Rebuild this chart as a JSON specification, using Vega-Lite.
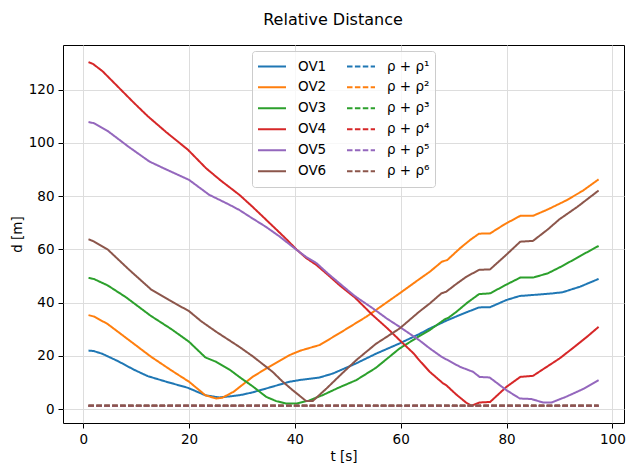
{
  "$schema": "https://vega.github.io/schema/vega-lite/v6.json",
  "autosize": "none",
  "width": 561,
  "height": 378,
  "padding": {"left": 63, "top": 45, "right": 2, "bottom": 43},
  "background": "white",
  "config": {
    "font": "DejaVu Sans",
    "view": {"stroke": "black", "strokeWidth": 1},
    "axis": {
      "domain": false,
      "grid": true,
      "gridColor": "#dddddd",
      "gridWidth": 1,
      "tickColor": "black",
      "tickSize": 5,
      "tickWidth": 1,
      "labelColor": "black",
      "labelFontSize": 13.5,
      "labelPadding": 4,
      "titleColor": "black",
      "titleFontSize": 13.5,
      "titleFontWeight": "normal",
      "titlePadding": 4
    }
  },
  "title": {
    "text": "Relative Distance",
    "fontSize": 16,
    "fontWeight": "normal",
    "color": "black",
    "anchor": "middle",
    "dx": -10.5,
    "baseline": "alphabetic",
    "offset": 4
  },
  "datasets": {
    "ov": [
      {"s":"OV1","t":1,"d":22},{"s":"OV1","t":2,"d":21.8},{"s":"OV1","t":3.6,"d":20.8},{"s":"OV1","t":6.6,"d":18},{"s":"OV1","t":9.6,"d":14.8},{"s":"OV1","t":12.2,"d":12.4},{"s":"OV1","t":15.7,"d":10.3},{"s":"OV1","t":19.8,"d":8},{"s":"OV1","t":23.1,"d":5.2},{"s":"OV1","t":25.7,"d":4.4},{"s":"OV1","t":28.2,"d":4.9},{"s":"OV1","t":30,"d":5.4},{"s":"OV1","t":32,"d":6.3},{"s":"OV1","t":35,"d":8},{"s":"OV1","t":39,"d":10.3},{"s":"OV1","t":41.1,"d":11},{"s":"OV1","t":44.7,"d":11.9},{"s":"OV1","t":47.2,"d":13.4},{"s":"OV1","t":51.6,"d":17.2},{"s":"OV1","t":55.3,"d":20.8},{"s":"OV1","t":59.8,"d":24.7},{"s":"OV1","t":63.5,"d":28.2},{"s":"OV1","t":65.5,"d":30.3},{"s":"OV1","t":68.6,"d":33.2},{"s":"OV1","t":70.5,"d":34.8},{"s":"OV1","t":72.6,"d":36.5},{"s":"OV1","t":74.8,"d":38.2},{"s":"OV1","t":76.9,"d":38.3},{"s":"OV1","t":80,"d":41},{"s":"OV1","t":82.5,"d":42.5},{"s":"OV1","t":85.8,"d":43},{"s":"OV1","t":88.8,"d":43.5},{"s":"OV1","t":90.6,"d":43.9},{"s":"OV1","t":93.9,"d":46},{"s":"OV1","t":97.4,"d":48.9},
      {"s":"OV2","t":1,"d":35.3},{"s":"OV2","t":2,"d":34.8},{"s":"OV2","t":4.6,"d":32},{"s":"OV2","t":7.6,"d":27.5},{"s":"OV2","t":12.8,"d":19.7},{"s":"OV2","t":16.7,"d":14.5},{"s":"OV2","t":20,"d":10.3},{"s":"OV2","t":23.1,"d":5.2},{"s":"OV2","t":25.1,"d":4.0},{"s":"OV2","t":26.3,"d":4.3},{"s":"OV2","t":28.4,"d":6.5},{"s":"OV2","t":32,"d":12.1},{"s":"OV2","t":34.6,"d":15.3},{"s":"OV2","t":39,"d":20.3},{"s":"OV2","t":41.1,"d":22},{"s":"OV2","t":44.7,"d":24.1},{"s":"OV2","t":48.4,"d":28.5},{"s":"OV2","t":53.5,"d":34.7},{"s":"OV2","t":59.8,"d":43.5},{"s":"OV2","t":63.5,"d":48.8},{"s":"OV2","t":65.5,"d":51.6},{"s":"OV2","t":67.8,"d":55.4},{"s":"OV2","t":68.8,"d":56},{"s":"OV2","t":71.2,"d":60.4},{"s":"OV2","t":73.1,"d":63.5},{"s":"OV2","t":74.8,"d":65.9},{"s":"OV2","t":76.9,"d":66},{"s":"OV2","t":79.7,"d":69.5},{"s":"OV2","t":82.6,"d":72.6},{"s":"OV2","t":85,"d":72.6},{"s":"OV2","t":87.8,"d":75},{"s":"OV2","t":91.2,"d":78.3},{"s":"OV2","t":94.4,"d":82},{"s":"OV2","t":97.4,"d":86.3},
      {"s":"OV3","t":1,"d":49.3},{"s":"OV3","t":2,"d":48.9},{"s":"OV3","t":4.6,"d":46.5},{"s":"OV3","t":8.1,"d":42},{"s":"OV3","t":12.8,"d":35},{"s":"OV3","t":16.7,"d":30},{"s":"OV3","t":20,"d":25.3},{"s":"OV3","t":23.1,"d":19.4},{"s":"OV3","t":25.1,"d":17.8},{"s":"OV3","t":27.9,"d":14.5},{"s":"OV3","t":29.5,"d":12.1},{"s":"OV3","t":32,"d":8.6},{"s":"OV3","t":34.6,"d":4.6},{"s":"OV3","t":36.5,"d":3},{"s":"OV3","t":38.4,"d":2.1},{"s":"OV3","t":40.3,"d":2.1},{"s":"OV3","t":42.6,"d":3.2},{"s":"OV3","t":45.3,"d":5.3},{"s":"OV3","t":48.2,"d":8},{"s":"OV3","t":51.6,"d":10.9},{"s":"OV3","t":55.3,"d":15.5},{"s":"OV3","t":59.8,"d":22.8},{"s":"OV3","t":63.5,"d":27.4},{"s":"OV3","t":65.5,"d":29.7},{"s":"OV3","t":68.3,"d":33.7},{"s":"OV3","t":69,"d":34.3},{"s":"OV3","t":70.5,"d":36.5},{"s":"OV3","t":72.6,"d":40},{"s":"OV3","t":74.8,"d":43.2},{"s":"OV3","t":76.9,"d":43.5},{"s":"OV3","t":80,"d":46.8},{"s":"OV3","t":82.6,"d":49.4},{"s":"OV3","t":85,"d":49.4},{"s":"OV3","t":87.8,"d":51},{"s":"OV3","t":90.6,"d":53.8},{"s":"OV3","t":93.9,"d":57.5},{"s":"OV3","t":97.4,"d":61.3},
      {"s":"OV4","t":1,"d":130.3},{"s":"OV4","t":1.8,"d":129.7},{"s":"OV4","t":3.6,"d":127},{"s":"OV4","t":6.6,"d":121},{"s":"OV4","t":9.6,"d":115},{"s":"OV4","t":12.2,"d":110},{"s":"OV4","t":15.7,"d":104},{"s":"OV4","t":19.8,"d":97.4},{"s":"OV4","t":23.2,"d":90.5},{"s":"OV4","t":25.9,"d":86},{"s":"OV4","t":29.5,"d":80.5},{"s":"OV4","t":32,"d":76},{"s":"OV4","t":35,"d":70.3},{"s":"OV4","t":38,"d":64.6},{"s":"OV4","t":40.3,"d":60},{"s":"OV4","t":42.1,"d":56.8},{"s":"OV4","t":44.1,"d":54.1},{"s":"OV4","t":46.2,"d":50.5},{"s":"OV4","t":48.4,"d":46.6},{"s":"OV4","t":51.3,"d":42},{"s":"OV4","t":54.7,"d":35.3},{"s":"OV4","t":57.4,"d":30.5},{"s":"OV4","t":59.8,"d":25.9},{"s":"OV4","t":62.4,"d":21},{"s":"OV4","t":63.5,"d":18.4},{"s":"OV4","t":65.5,"d":14},{"s":"OV4","t":68,"d":9.7},{"s":"OV4","t":68.6,"d":9},{"s":"OV4","t":70.5,"d":5.5},{"s":"OV4","t":72.4,"d":2.4},{"s":"OV4","t":73.4,"d":1.3},{"s":"OV4","t":74.9,"d":2.5},{"s":"OV4","t":76.9,"d":2.7},{"s":"OV4","t":80,"d":8.4},{"s":"OV4","t":82.6,"d":12.1},{"s":"OV4","t":85,"d":12.5},{"s":"OV4","t":87.3,"d":15.5},{"s":"OV4","t":90,"d":19},{"s":"OV4","t":92.9,"d":23.5},{"s":"OV4","t":95.4,"d":27.5},{"s":"OV4","t":97.4,"d":30.9},
      {"s":"OV5","t":1,"d":107.8},{"s":"OV5","t":2,"d":107.4},{"s":"OV5","t":4.6,"d":104.5},{"s":"OV5","t":8.6,"d":98.5},{"s":"OV5","t":12.5,"d":93},{"s":"OV5","t":15.7,"d":90},{"s":"OV5","t":20,"d":86.1},{"s":"OV5","t":23.8,"d":80.5},{"s":"OV5","t":27.4,"d":77},{"s":"OV5","t":29.5,"d":74.8},{"s":"OV5","t":32,"d":71.6},{"s":"OV5","t":34.5,"d":68.5},{"s":"OV5","t":37,"d":65},{"s":"OV5","t":40.2,"d":60},{"s":"OV5","t":42.1,"d":57.2},{"s":"OV5","t":44.1,"d":54.8},{"s":"OV5","t":46.2,"d":51},{"s":"OV5","t":48.4,"d":47.3},{"s":"OV5","t":51.3,"d":42.5},{"s":"OV5","t":54.7,"d":37.9},{"s":"OV5","t":57.4,"d":34},{"s":"OV5","t":59.8,"d":30.9},{"s":"OV5","t":63.5,"d":25.9},{"s":"OV5","t":65.5,"d":22.8},{"s":"OV5","t":67.7,"d":19.7},{"s":"OV5","t":71.2,"d":15.9},{"s":"OV5","t":73.7,"d":14},{"s":"OV5","t":74.9,"d":12.1},{"s":"OV5","t":76.8,"d":11.9},{"s":"OV5","t":80,"d":7.1},{"s":"OV5","t":82.5,"d":4},{"s":"OV5","t":84.7,"d":3.8},{"s":"OV5","t":86.9,"d":2.5},{"s":"OV5","t":88.5,"d":2.5},{"s":"OV5","t":91.2,"d":4.6},{"s":"OV5","t":94.4,"d":7.5},{"s":"OV5","t":97.4,"d":10.9},
      {"s":"OV6","t":1,"d":63.8},{"s":"OV6","t":2,"d":63},{"s":"OV6","t":4.6,"d":60},{"s":"OV6","t":8.6,"d":52.5},{"s":"OV6","t":12.8,"d":45},{"s":"OV6","t":16.2,"d":41},{"s":"OV6","t":20,"d":36.8},{"s":"OV6","t":22.3,"d":33},{"s":"OV6","t":25.1,"d":29.1},{"s":"OV6","t":29.5,"d":23.4},{"s":"OV6","t":32,"d":19.9},{"s":"OV6","t":35.8,"d":14},{"s":"OV6","t":37.6,"d":10.5},{"s":"OV6","t":39.6,"d":7.1},{"s":"OV6","t":42.1,"d":3.1},{"s":"OV6","t":43.4,"d":3.1},{"s":"OV6","t":46,"d":7.8},{"s":"OV6","t":48.7,"d":13},{"s":"OV6","t":51.6,"d":18.4},{"s":"OV6","t":55.3,"d":24.5},{"s":"OV6","t":59.8,"d":30.3},{"s":"OV6","t":63.5,"d":36.6},{"s":"OV6","t":65.5,"d":39.7},{"s":"OV6","t":67.7,"d":43.5},{"s":"OV6","t":68.6,"d":44.1},{"s":"OV6","t":70.5,"d":47},{"s":"OV6","t":72.4,"d":49.7},{"s":"OV6","t":74.8,"d":52.3},{"s":"OV6","t":76.9,"d":52.5},{"s":"OV6","t":79.7,"d":57.5},{"s":"OV6","t":82.6,"d":62.9},{"s":"OV6","t":85,"d":63.2},{"s":"OV6","t":87.8,"d":67.5},{"s":"OV6","t":90,"d":71.3},{"s":"OV6","t":93.4,"d":76},{"s":"OV6","t":97.4,"d":82.1}
    ],
    "rho": [
      {"s":"ρ + ρ¹","t":1,"d":1.25},{"s":"ρ + ρ¹","t":97.4,"d":1.25},
      {"s":"ρ + ρ²","t":1,"d":1.25},{"s":"ρ + ρ²","t":97.4,"d":1.25},
      {"s":"ρ + ρ³","t":1,"d":1.25},{"s":"ρ + ρ³","t":97.4,"d":1.25},
      {"s":"ρ + ρ⁴","t":1,"d":1.25},{"s":"ρ + ρ⁴","t":97.4,"d":1.25},
      {"s":"ρ + ρ⁵","t":1,"d":1.25},{"s":"ρ + ρ⁵","t":97.4,"d":1.25},
      {"s":"ρ + ρ⁶","t":1,"d":1.25},{"s":"ρ + ρ⁶","t":97.4,"d":1.25}
    ]
  },
  "encoding": {
    "x": {
      "field": "t", "type": "quantitative", "title": "t [s]",
      "scale": {"domain": [-3.82, 102.2], "nice": false, "zero": false},
      "axis": {"values": [0, 20, 40, 60, 80, 100]}
    },
    "y": {
      "field": "d", "type": "quantitative", "title": "d [m]",
      "scale": {"domain": [-5.2, 136.75], "nice": false, "zero": false},
      "axis": {"values": [0, 20, 40, 60, 80, 100, 120]}
    },
    "color": {
      "field": "s", "type": "nominal",
      "scale": {
        "domain": ["OV1", "OV2", "OV3", "OV4", "OV5", "OV6", "ρ + ρ¹", "ρ + ρ²", "ρ + ρ³", "ρ + ρ⁴", "ρ + ρ⁵", "ρ + ρ⁶"],
        "range": ["#1f77b4", "#ff7f0e", "#2ca02c", "#d62728", "#9467bd", "#8c564b", "#1f77b4", "#ff7f0e", "#2ca02c", "#d62728", "#9467bd", "#8c564b"]
      },
      "legend": {
        "title": null, "orient": "none", "legendX": 189, "legendY": 6,
        "columns": 2, "direction": "vertical",
        "symbolType": "stroke", "symbolSize": 784, "symbolStrokeWidth": 2,
        "labelFontSize": 13.5, "labelColor": "black", "labelOffset": 11, "labelLimit": 200,
        "columnPadding": 19, "rowPadding": 0, "padding": 5, "clipHeight": 20.4,
        "fillColor": "rgba(255,255,255,0.8)", "strokeColor": "#cccccc", "cornerRadius": 3
      }
    },
    "strokeDash": {
      "field": "s", "type": "nominal",
      "scale": {
        "domain": ["OV1", "OV2", "OV3", "OV4", "OV5", "OV6", "ρ + ρ¹", "ρ + ρ²", "ρ + ρ³", "ρ + ρ⁴", "ρ + ρ⁵", "ρ + ρ⁶"],
        "range": [[1, 0], [1, 0], [1, 0], [1, 0], [1, 0], [1, 0], [5.5, 2.4], [5.5, 2.4], [5.5, 2.4], [5.5, 2.4], [5.5, 2.4], [5.5, 2.4]]
      },
      "legend": {
        "title": null, "orient": "none", "legendX": 189, "legendY": 6,
        "columns": 2, "direction": "vertical",
        "symbolType": "stroke", "symbolSize": 784, "symbolStrokeWidth": 2,
        "labelFontSize": 13.5, "labelColor": "black", "labelOffset": 11, "labelLimit": 200,
        "columnPadding": 19, "rowPadding": 0, "padding": 5, "clipHeight": 20.4,
        "fillColor": "rgba(255,255,255,0.8)", "strokeColor": "#cccccc", "cornerRadius": 3
      }
    }
  },
  "layer": [
    {"data": {"name": "ov"}, "mark": {"type": "line", "strokeWidth": 2}},
    {"data": {"name": "rho"}, "mark": {"type": "line", "strokeWidth": 2}}
  ]
}
